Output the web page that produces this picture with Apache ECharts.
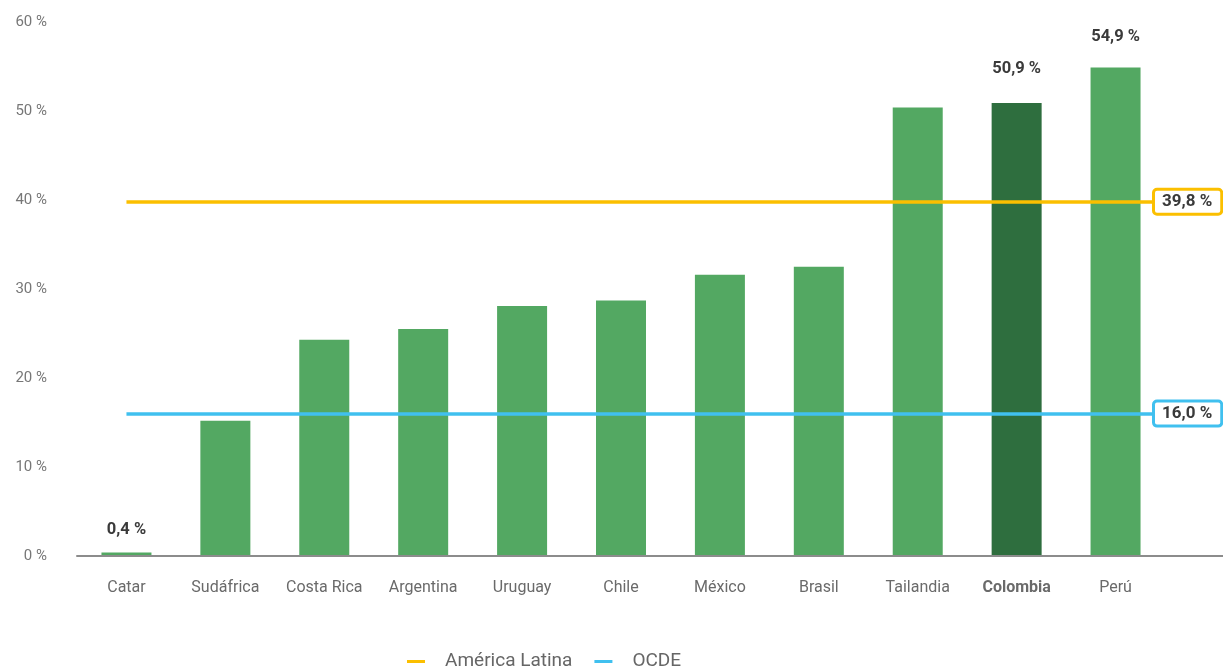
<!DOCTYPE html>
<html><head><meta charset="utf-8">
<script src="https://cdn.jsdelivr.net/npm/echarts@6/dist/echarts.min.js"></script>
<style>html,body{margin:0;padding:0;background:#fff}#c{width:1223px;height:671px}</style>
</head><body><div id="c"></div>
<script>
// ---- data ----
const categories = ['Catar','Sudáfrica','Costa Rica','Argentina','Uruguay','Chile','México','Brasil','Tailandia','Colombia','Perú'];
const values = [0.4, 15.2, 24.3, 25.5, 28.1, 28.7, 31.6, 32.5, 50.4, 50.9, 54.9];
const labeledCategories = ['Catar', 'Colombia', 'Perú'];
const highlightCategory = 'Colombia';
const refNames = ['América Latina', 'OCDE'];
const refValues = [39.8, 16.0];
const yTicks = [0, 10, 20, 30, 40, 50, 60];

// ---- style ----
const FONT = 'Roboto, "Noto Sans", sans-serif';
const GREEN = '#53a862';
const DARK_GREEN = '#2e6e3e';
const refColors = ['#fbbf00', '#40c0ef'];
const GRID_LEFT = 77, GRID_RIGHT = 58, GRID_TOP = 22, GRID_BOTTOM = 115;
const REF_END_X = 1155;
const labelDistance = {'Catar': 14, 'Colombia': 26, 'Perú': 22};

const fmt = v => v.toFixed(1).replace('.', ',') + ' %';

const chart = echarts.init(document.getElementById('c'), null, {renderer: 'canvas'});

const barData = values.map((v, i) => {
  const name = categories[i];
  const item = {value: v};
  if (name === highlightCategory) item.itemStyle = {color: DARK_GREEN};
  if (labeledCategories.includes(name)) {
    item.label = {show: true, distance: labelDistance[name]};
  }
  return item;
});

const refSeries = refNames.map((n, i) => ({
  name: n,
  type: 'line',
  data: [],
  symbol: 'none',
  itemStyle: {color: refColors[i]},
  lineStyle: {color: refColors[i], width: 3.5},
  z: 5,
  markLine: {
    silent: true,
    symbol: ['none', 'none'],
    animation: false,
    lineStyle: {color: refColors[i], width: 3.5, type: 'solid'},
    label: {
      show: true,
      position: 'end',
      distance: 0,
      formatter: fmt(refValues[i]),
      fontFamily: FONT,
      fontWeight: 'bold',
      fontSize: 17,
      lineHeight: 16,
      color: '#3a3a3a',
      backgroundColor: '#fff',
      borderColor: refColors[i],
      borderWidth: 3,
      borderRadius: 2,
      padding: [3, 8, 3, 7]
    },
    data: [[
      {xAxis: categories[0], yAxis: refValues[i]},
      {xAxis: categories[categories.length - 1], yAxis: refValues[i], x: REF_END_X}
    ]]
  }
}));

chart.setOption({
  animation: false,
  backgroundColor: '#fff',
  textStyle: {fontFamily: FONT},
  grid: {left: GRID_LEFT, right: GRID_RIGHT, top: GRID_TOP, bottom: GRID_BOTTOM},
  legend: {
    data: refNames,
    top: 647,
    left: 402,
    icon: 'rect',
    itemWidth: 18,
    itemHeight: 3,
    itemGap: 22,
    textStyle: {fontFamily: FONT, fontSize: 19, color: '#666', padding: [0, 0, 0, 15]}
  },
  xAxis: {
    type: 'category',
    data: categories,
    axisTick: {show: false},
    axisLine: {show: true, lineStyle: {color: '#8c8c8c', width: 2}},
    axisLabel: {
      interval: 0,
      margin: 24,
      fontFamily: FONT,
      fontSize: 16,
      color: '#6a6a6a',
      formatter: v => v === highlightCategory ? '{b|' + v + '}' : v,
      rich: {b: {fontFamily: FONT, fontSize: 16, fontWeight: 'bold', color: '#6a6a6a'}}
    }
  },
  yAxis: {
    type: 'value',
    min: yTicks[0],
    max: yTicks[yTicks.length - 1],
    interval: yTicks[1] - yTicks[0],
    axisLine: {show: false},
    axisTick: {show: false},
    splitLine: {show: false},
    axisLabel: {margin: 30, fontFamily: FONT, fontSize: 15, color: '#777', formatter: v => v + ' %'}
  },
  series: [{
    type: 'bar',
    data: barData,
    barWidth: 50,
    itemStyle: {color: GREEN},
    label: {
      show: false,
      position: 'top',
      fontFamily: FONT,
      fontWeight: 'bold',
      fontSize: 16.5,
      color: '#3a3a3a',
      formatter: p => fmt(p.value)
    },
    z: 2
  }].concat(refSeries)
});

// extend the baseline to the right edge of the canvas
const y0 = chart.convertToPixel({yAxisIndex: 0}, 0);
chart.setOption({
  graphic: [{
    type: 'line',
    z: 10,
    shape: {x1: GRID_LEFT, y1: y0, x2: chart.getWidth(), y2: y0},
    style: {stroke: '#8c8c8c', lineWidth: 2}
  }]
});
</script>
</body></html>
